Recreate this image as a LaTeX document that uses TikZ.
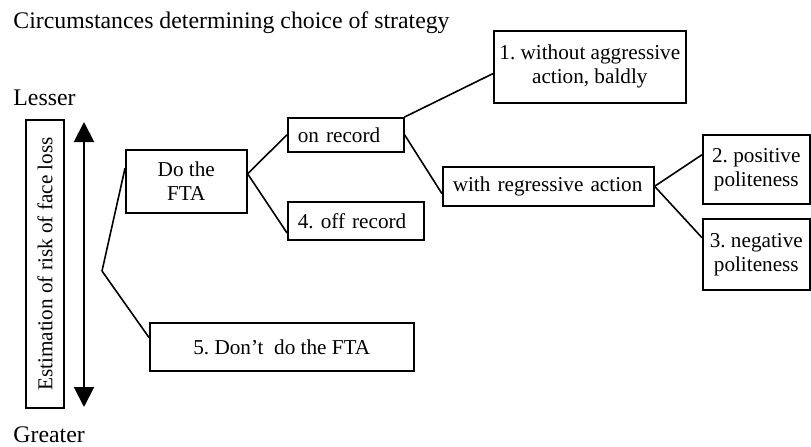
\documentclass[tikz,border=0pt]{standalone}
\usepackage{fontspec}
\setmainfont{Liberation Serif}
\usetikzlibrary{arrows.meta}

\tikzset{
	box/.style={draw, line width=0.8pt, anchor=north west, inner sep=0pt, align=center},
	leftbox/.style={box, align=left, inner xsep=5pt},
	label/.style={inner sep=0pt, anchor=base west, font=\fontsize{11.9pt}{14pt}\selectfont},
	branch/.style={line width=0.8pt}
}

\begin{document}
\frenchspacing
\begin{tikzpicture}[x=0.5pt, y=-0.5pt, font=\fontsize{10.6pt}{12pt}\selectfont]
	
	\useasboundingbox (0,0) rectangle (811,446);
	
	\node [label] (title) at (13,28) {Circumstances determining choice of strategy};
	\node [label] (lesser) at (13,105) {Lesser};
	\node [label] (greater) at (13,442) {Greater};
	
	% scale on the left
	\node [draw, line width=0.6pt, rotate=90, minimum width=144pt, minimum height=19pt, inner sep=0pt] (risk) at (45,264) {Estimation of risk of face loss};
	
	\coordinate (top) at (84,122);
	\coordinate (bottom) at (84,407);
	\draw [line width=1pt, {Triangle[width=10pt,length=10pt]}-{Triangle[width=10pt,length=10pt]}] (top) -- (bottom);
	
	\coordinate (split) at (102,271);
	
	\node [box, minimum width=60.5pt, minimum height=31.5pt] (fta) at (125,149) {Do the\\FTA};
	\node [box, minimum width=132pt, minimum height=24pt] (dont) at (149,322) {5. Don’t~ do the FTA};
	
	\node [leftbox, text width=48pt, minimum height=17pt] (onrec) at (287,117) {on record};
	\node [leftbox, text width=58pt, minimum height=19pt] (offrec) at (287,201) {4. off record};
	
	\node [box, minimum width=96pt, minimum height=36pt] (without) at (493,30) {1. without aggressive\\action, baldly};
	\node [leftbox, text width=95.5pt, minimum height=19.5pt] (regr) at (442,166) {with regressive action};
	
	\node [box, minimum width=53.5pt, minimum height=34.5pt] (pos) at (702,134) {2. positive\\politeness};
	\node [box, minimum width=53.5pt, minimum height=35.5pt] (neg) at (702,218) {3. negative\\politeness};
	
	\draw [branch] (split) -- (fta.168);
	\draw [branch] (split) -- (dont.176);
	
	\draw [branch] (fta.7) -- (onrec.west);
	\draw [branch] (fta.7) -- (offrec.190);
	
	\draw [branch] (onrec.north east) -- (without.184);
	\draw [branch] (onrec.east) -- (regr.184);
	
	\draw [branch] (regr.east) -- (pos.165);
	\draw [branch] (regr.east) -- (neg.163);
	
\end{tikzpicture}
\end{document}
